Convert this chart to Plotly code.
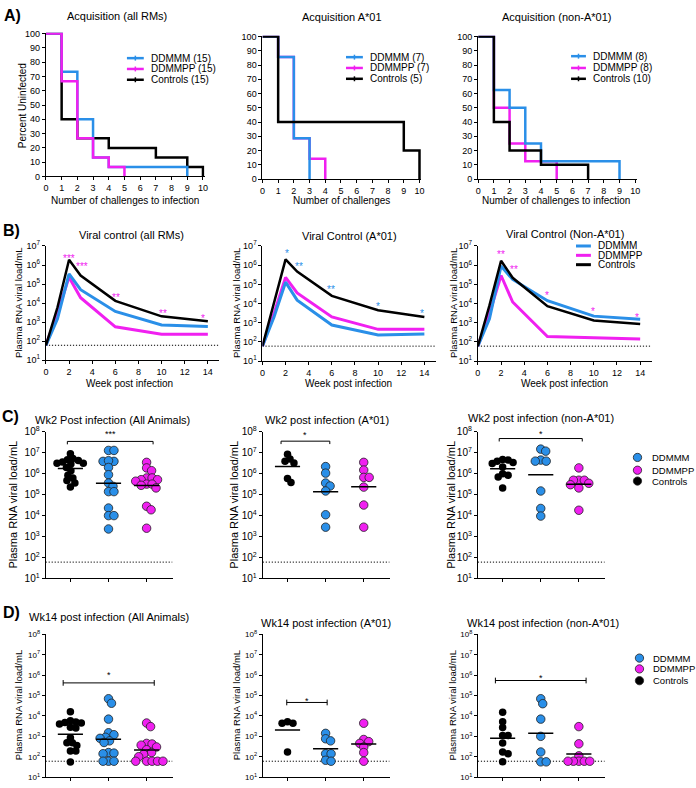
import numpy as np
import plotly.graph_objects as go

W, H = 696, 788
FONT = "Liberation Sans, Arial, Helvetica, sans-serif"
BLUE = "#2a8fe8"
MAGENTA = "#f020f0"
BLACK = "#000000"
DOTS = "1.2px,1.8px"

# ---------------- A) acquisition: percent uninfected by challenge ----------------
a1_ddmmm_x = [0, 1, 2, 3, 4, 9]
a1_ddmmm_y = [100, 73.3, 40, 13.3, 6.7, 0]
a1_ddmmpp_x = [0, 1, 2, 3, 4, 5]
a1_ddmmpp_y = [100, 66.7, 26.7, 13.3, 6.7, 0]
a1_ctrl_x = [0, 1, 2, 4, 7, 9, 10]
a1_ctrl_y = [100, 40, 26.7, 20, 13.3, 6.7, 0]

a2_ddmmm_x = [0, 1, 2, 3]
a2_ddmmm_y = [100, 85.7, 28.6, 0]
a2_ddmmpp_x = [0, 1, 2, 3, 4]
a2_ddmmpp_y = [100, 85.7, 28.6, 14.3, 0]
a2_ctrl_x = [0, 1, 9, 10]
a2_ctrl_y = [100, 40, 20, 0]

a3_ddmmm_x = [0, 1, 2, 3, 4, 9]
a3_ddmmm_y = [100, 62.5, 50, 25, 12.5, 0]
a3_ddmmpp_x = [0, 1, 2, 3, 5]
a3_ddmmpp_y = [100, 50, 25, 12.5, 0]
a3_ctrl_x = [0, 1, 2, 4, 7]
a3_ctrl_y = [100, 40, 20, 10, 0]

a1_labels = ["DDMMM (15)", "DDMMPP (15)", "Controls (15)"]
a2_labels = ["DDMMM (7)", "DDMMPP (7)", "Controls (5)"]
a3_labels = ["DDMMM (8)", "DDMMPP (8)", "Controls (10)"]

# ---------------- B) viral load over time ----------------
weeks = [0, 1, 2, 3, 6, 10, 14]
b1_ddmmm = [60, 1.5e3, 3.4e5, 5e4, 3.6e3, 700, 580]
b1_ddmmpp = [60, 3e3, 2.3e5, 1.9e4, 560, 230, 230]
b1_ctrl = [60, 6e3, 1.9e6, 2.8e5, 1.3e4, 2e3, 1.1e3]
b1_star_x = [2.0, 3.15, 6.05, 10.1, 13.6]
b1_star_y = [3e6, 1.2e6, 2.5e4, 3.6e3, 2.2e3]
b1_star_t = ["***", "***", "**", "**", "*"]

b2_ddmmm = [60, 2e3, 1.3e5, 1.5e4, 760, 230, 260]
b2_ddmmpp = [60, 3e3, 2.3e5, 3.6e4, 2e3, 450, 450]
b2_ctrl = [60, 1e4, 2e6, 4.6e5, 2.5e4, 4.5e3, 2e3]
b2_star_x = [2.14, 3.2, 5.95, 9.95, 13.8]
b2_star_y = [5.5e6, 1.2e6, 7e4, 1e4, 4e3]
b2_star_t = ["*", "**", "**", "*", "*"]

b3_ddmmm = [60, 1.6e3, 9e5, 1.8e5, 1.4e4, 2.2e3, 1.5e3]
b3_ddmmpp = [60, 3e3, 2.9e5, 1.2e4, 190, 160, 140]
b3_ctrl = [60, 8e3, 1.7e6, 2.2e5, 7.3e3, 1.3e3, 850]
b3_star_x = [2.0, 3.1, 6.0, 9.95, 13.7]
b3_star_y = [4.6e6, 8e5, 3.5e4, 5e3, 2.6e3]
b3_star_t = ["**", "**", "*", "*", "*"]

lod = 60

# ---------------- C) week 2 / D) week 14 individual animals ----------------
c1_ctrl = [8.9e6, 5.3e6, 4.7e6, 3.6e6, 4.3e6, 3.2e6, 3.2e6, 2.9e6, 2e6, 1.4e6, 8.4e5, 6.3e5, 4.7e5, 3.6e5, 2.3e5]
c1_ddmmm = [1.3e7, 1.3e7, 3.9e6, 3.9e6, 4.2e6, 2e6, 9e5, 3.6e5, 2.5e5, 1.4e5, 1.4e5, 2.3e4, 1e4, 1e4, 2.3e3]
c1_ddmmpp = [3.5e6, 1.9e6, 1.4e6, 6.3e5, 6.3e5, 5.2e5, 5.2e5, 4.4e5, 3.2e5, 3.2e5, 2.8e5, 2.1e5, 2.8e4, 1.9e4, 2.5e3]

c2_ctrl = [8.5e6, 5e6, 4e6, 3.3e6, 6e5, 3.8e5]
c2_ddmmm = [2.2e6, 1.07e6, 3.6e5, 2.6e5, 1.5e5, 1.1e4, 2.8e3]
c2_ddmmpp = [3.5e6, 1.5e6, 6.7e5, 6.7e5, 2.3e5, 3.2e4, 2.8e3]

c3_ctrl = [4.8e6, 4.5e6, 4e6, 3.4e6, 3.1e6, 2.1e6, 1e6, 8.5e5, 7e5, 2.1e5]
c3_ddmmm = [1.5e7, 1.2e7, 4.5e6, 4e6, 4e6, 1.5e5, 2.2e4, 9.5e3]
c3_ddmmpp = [1.9e6, 4.9e5, 4.9e5, 4.9e5, 3.5e5, 3e5, 2.1e5, 1.8e4]

d1_ctrl = [1.6e4, 5.8e3, 5e3, 4.8e3, 4.5e3, 4e3, 2.8e3, 2.6e3, 860, 490, 490, 350, 190, 190, 55]
d1_ddmmm = [7e4, 4.2e4, 7e3, 1.5e3, 1.2e3, 900, 800, 600, 500, 160, 150, 140, 60, 60, 60]
d1_ddmmpp = [4.5e3, 3e3, 450, 420, 370, 300, 220, 160, 130, 100, 60, 60, 60, 60, 60]

d2_ctrl = [5.2e3, 4.4e3, 4.4e3, 170]
d2_ddmmm = [1.4e3, 760, 600, 140, 140, 67, 60]
d2_ddmmpp = [4.4e3, 700, 550, 450, 300, 160, 60]

d3_ctrl = [1.5e4, 5.2e3, 2.7e3, 1.1e3, 1.1e3, 470, 170, 140, 56]
d3_ddmmm = [7e4, 4e4, 7e3, 1e3, 170, 56, 56]
d3_ddmmpp = [3e3, 430, 110, 60, 60, 60, 60, 60]

# significance brackets: (x from, x to, level, star level, text)
c1_sig = (0.92, 3.17, 3.5e7, 1e8, "***")
c2_sig = (0.83, 2.11, 3.6e7, 9e7, "*")
c3_sig = (0.91, 3.09, 4.8e7, 1e8, "*")
d1_sig = (0.81, 3.2, 4.2e5, 1.3e6, "*")
d2_sig = (0.98, 2.04, 4.6e4, 7e4, "*")
d3_sig = (0.81, 3.19, 5.5e5, 9.5e5, "*")

group_labels = ["DDMMM", "DDMMPP", "Controls"]

# ---------------- layout helpers ----------------
fig = go.Figure()
annotations = []
shapes = []


def refs(n):
    return ("x", "y") if n == 1 else (f"x{n}", f"y{n}")


def add_axes(n, box, xopt, yopt, tick_size):
    x0, x1, yt, yb = box
    base = dict(showline=True, linecolor="black", linewidth=1, ticks="outside",
                ticklen=3, tickwidth=1, tickcolor="black", showgrid=False,
                zeroline=False, fixedrange=True,
                tickfont=dict(size=tick_size, color="black", family=FONT))
    xn = "xaxis" if n == 1 else f"xaxis{n}"
    yn = "yaxis" if n == 1 else f"yaxis{n}"
    xr, yr = refs(n)
    fig.update_layout({
        xn: dict(domain=[x0 / W, x1 / W], anchor=yr, **base, **xopt),
        yn: dict(domain=[1 - yb / H, 1 - yt / H], anchor=xr, **base, **yopt),
    })


def text(s, x, y, size, angle=0, anchor="center", color="black"):
    annotations.append(dict(text=s, x=x / W, y=1 - y / H, xref="paper", yref="paper",
                            showarrow=False, textangle=angle, xanchor=anchor,
                            yanchor="middle", font=dict(size=size, color=color, family=FONT)))


def line_legend(x0, x1, y0, labels, colors, width, size, tick):
    for i, (lab, col) in enumerate(zip(labels, colors)):
        y = y0[i]
        shapes.append(dict(type="line", xref="paper", yref="paper", x0=x0 / W, x1=x1 / W,
                           y0=1 - y / H, y1=1 - y / H, line=dict(color=col, width=width)))
        if tick:
            xm = (x0 + x1) / 2
            shapes.append(dict(type="line", xref="paper", yref="paper", x0=xm / W, x1=xm / W,
                               y0=1 - (y - 2.5) / H, y1=1 - (y + 2.5) / H,
                               line=dict(color=col, width=1.5)))
        text(lab, x1 + 5, y, size, anchor="left")


def dot_legend(cx, tx, ys, labels, colors, size):
    r = 4.2
    for lab, col, y in zip(labels, colors, ys):
        shapes.append(dict(type="circle", xref="paper", yref="paper",
                           x0=(cx - r) / W, x1=(cx + r) / W, y0=1 - (y + r) / H, y1=1 - (y - r) / H,
                           fillcolor=col, line=dict(color="#222222", width=0.8)))
        text(lab, tx, y, size, anchor="left")


def swarm(values, ppd, ppu, d):
    ly = np.log10(np.asarray(values, dtype=float)) * ppd
    order = np.argsort(-ly, kind="stable")
    cands = [0.0]
    for s in range(1, 80):
        cands += [s * 0.5, -s * 0.5]
    placed = []
    off = np.zeros(len(ly))
    for i in order:
        for c in cands:
            if all((c - px) ** 2 + (ly[i] - py) ** 2 >= d * d for px, py in placed):
                off[i] = c
                placed.append((c, ly[i]))
                break
    return off / ppu


LOGTICKS = lambda hi: dict(type="log", range=[1, hi], tickvals=[10 ** k for k in range(1, hi + 1)],
                           ticktext=[f"10<sup>{k}</sup>" for k in range(1, hi + 1)])

# ---------------- A panels ----------------
a_boxes = [(43.3, 203.3, 26.3, 172.3), (261.7, 421.7, 29.3, 175), (479.3, 639.3, 29.3, 175)]
a_sets = [
    [(a1_ctrl_x, a1_ctrl_y, BLACK), (a1_ddmmm_x, a1_ddmmm_y, BLUE), (a1_ddmmpp_x, a1_ddmmpp_y, MAGENTA)],
    [(a2_ddmmpp_x, a2_ddmmpp_y, MAGENTA), (a2_ddmmm_x, a2_ddmmm_y, BLUE), (a2_ctrl_x, a2_ctrl_y, BLACK)],
    [(a3_ddmmpp_x, a3_ddmmpp_y, MAGENTA), (a3_ddmmm_x, a3_ddmmm_y, BLUE), (a3_ctrl_x, a3_ctrl_y, BLACK)],
]
for k in range(3):
    n = k + 1
    xr, yr = refs(n)
    for xs, ys, col in a_sets[k]:
        fig.add_trace(go.Scatter(x=xs, y=ys, mode="lines", line=dict(color=col, width=2.5, shape="hv"),
                                 xaxis=xr, yaxis=yr, hoverinfo="skip"))
    add_axes(n, a_boxes[k],
             dict(range=[0, 10.1], tickvals=list(range(11))),
             dict(range=[0, 100.5], tickvals=list(range(0, 101, 10))), 9)

text("Acquisition (all RMs)", 115, 9, 11)
text("Acquisition A*01", 342, 10, 11)
text("Acquisition (non-A*01)", 558, 10, 11)
text("Number of challenges to infection", 123, 197, 10)
text("Number of challenges", 341, 197, 10)
text("Number of challenges to infection", 558, 197, 10)
text("Percent Uninfected", 20, 100, 10, angle=-90)
line_legend(125, 142, [52, 63, 74], a1_labels, [BLUE, MAGENTA, BLACK], 2.5, 10, True)
line_legend(346, 363, [51, 62, 73], a2_labels, [BLUE, MAGENTA, BLACK], 2.5, 10, True)
line_legend(573, 588, [50, 62, 73], a3_labels, [BLUE, MAGENTA, BLACK], 2.5, 10, True)

# ---------------- B panels ----------------
b_boxes = [(43.3, 218.3, 243, 359), (261.7, 436.7, 243, 360), (479, 654.4, 243, 360)]
b_sets = [
    (b1_ddmmpp, b1_ddmmm, b1_ctrl, b1_star_x, b1_star_y, b1_star_t, MAGENTA),
    (b2_ddmmpp, b2_ddmmm, b2_ctrl, b2_star_x, b2_star_y, b2_star_t, BLUE),
    (b3_ddmmpp, b3_ddmmm, b3_ctrl, b3_star_x, b3_star_y, b3_star_t, MAGENTA),
]
for k in range(3):
    n = k + 4
    xr, yr = refs(n)
    pp, mm, ct, sx, sy, st, scol = b_sets[k]
    fig.add_trace(go.Scatter(x=[0, 15], y=[lod, lod], mode="lines", line=dict(color="black", width=1, dash=DOTS),
                             xaxis=xr, yaxis=yr, hoverinfo="skip"))
    for vals, col, w in [(pp, MAGENTA, 3), (mm, BLUE, 3), (ct, BLACK, 2.5)]:
        fig.add_trace(go.Scatter(x=weeks, y=vals, mode="lines", line=dict(color=col, width=w),
                                 xaxis=xr, yaxis=yr, hoverinfo="skip"))
    for x, y, t in zip(sx, sy, st):
        annotations.append(dict(text=t, x=x, y=np.log10(y), xref=xr, yref=yr, showarrow=False,
                                yshift=-2.5, font=dict(size=10, color=scol, family=FONT)))
    add_axes(n, b_boxes[k], dict(range=[0, 15], tickvals=list(range(0, 15, 2))), LOGTICKS(7), 9)

text("Viral control (all RMs)", 130, 232, 11)
text("Viral Control (A*01)", 350, 233, 11)
text("Viral Control (Non-A*01)", 567, 231, 11)
for cx in (128, 348, 566):
    text("Week post infection", cx, 383, 10)
for tx in (15, 235, 454):
    text("Plasma RNA viral load/mL", tx, 301, 9.5, angle=-90)
line_legend(578, 593, [243, 252.5, 262], group_labels, [BLUE, MAGENTA, BLACK], 3, 10, False)

# ---------------- C / D panels ----------------
XR = [0.35, 3.68]
c_boxes = [(43, 171, 432, 581), (262, 390, 432, 581), (479, 607, 432, 581)]
d_boxes = [(43, 171, 638, 783), (262, 390, 638, 783), (479, 607, 638, 783)]
cd_sets = [
    (c_boxes[0], c1_ctrl, c1_ddmmm, c1_ddmmpp, c1_sig, 10, False),
    (c_boxes[1], c2_ctrl, c2_ddmmm, c2_ddmmpp, c2_sig, 10, False),
    (c_boxes[2], c3_ctrl, c3_ddmmm, c3_ddmmpp, c3_sig, 10, False),
    (d_boxes[0], d1_ctrl, d1_ddmmm, d1_ddmmpp, d1_sig, 8, True),
    (d_boxes[1], d2_ctrl, d2_ddmmm, d2_ddmmpp, d2_sig, 8, True),
    (d_boxes[2], d3_ctrl, d3_ddmmm, d3_ddmmpp, d3_sig, 8, True),
]
for k, (box, ct, mm, pp, sig, tsize, capped) in enumerate(cd_sets):
    n = k + 7
    xr, yr = refs(n)
    ppd = (box[3] - box[2]) / 7
    ppu = (box[1] - box[0]) / (XR[1] - XR[0])
    fig.add_trace(go.Scatter(x=XR, y=[lod, lod], mode="lines", line=dict(color="black", width=1, dash=DOTS),
                             xaxis=xr, yaxis=yr, hoverinfo="skip"))
    for cat, vals, col, size, lw in [(1, ct, BLACK, 7.5, 0), (2, mm, BLUE, 8.5, 0.8), (3, pp, MAGENTA, 8.5, 0.8)]:
        off = swarm(vals, ppd, ppu, 5.4)
        fig.add_trace(go.Scatter(x=cat + off, y=vals, mode="markers",
                                 marker=dict(size=size, color=col, line=dict(color="#222222", width=lw)),
                                 xaxis=xr, yaxis=yr, hoverinfo="skip", cliponaxis=False))
    for cat, vals in [(1, ct), (2, mm), (3, pp)]:
        gm = 10 ** np.mean(np.log10(vals))
        fig.add_trace(go.Scatter(x=[cat - 0.33, cat + 0.33], y=[gm, gm], mode="lines",
                                 line=dict(color="black", width=1.5), xaxis=xr, yaxis=yr, hoverinfo="skip"))
    x0, x1, lev, slev, st = sig
    f = 10 ** -0.14
    if capped:
        bx = [x0, x1, None, x0, x0, None, x1, x1]
        by = [lev, lev, None, lev * f, lev / f, None, lev * f, lev / f]
    else:
        bx = [x0, x0, x1, x1]
        by = [lev * f, lev, lev, lev * f]
    fig.add_trace(go.Scatter(x=bx, y=by, mode="lines", line=dict(color="black", width=1),
                             xaxis=xr, yaxis=yr, hoverinfo="skip", connectgaps=False))
    annotations.append(dict(text=st, x=(x0 + x1) / 2, y=np.log10(slev), xref=xr, yref=yr, showarrow=False,
                            yshift=-2.5, font=dict(size=9, color="black", family=FONT)))
    add_axes(n, box, dict(range=XR, tickvals=[1, 2, 3], showticklabels=False), LOGTICKS(8), tsize)

text("Wk2 Post infection (All Animals)", 110, 420, 11)
text("Wk2 post infection (A*01)", 327, 420, 11)
text("Wk2 post infection (non-A*01)", 543, 418, 11)
text("Wk14 post infection (All Animals)", 107, 620, 11)
text("Wk14 post infection (A*01)", 326, 626, 11)
text("Wk14 post infection (non-A*01)", 545, 626, 11)
for tx in (10, 233, 452):
    text("Plasma RNA viral load/mL", tx, 506, 11, angle=-90)
for tx in (15, 235, 453):
    text("Plasma RNA viral load/mL", tx, 710, 9.5, angle=-90)
dot_legend(640, 653, [458, 471, 482], group_labels, [BLUE, MAGENTA, BLACK], 9.5)
dot_legend(642, 654, [662, 673, 685], group_labels, [BLUE, MAGENTA, BLACK], 9.5)

# panel letters
text("<b>A)</b>", 10, 9, 16)
text("<b>B)</b>", 9, 227, 16)
text("<b>C)</b>", 8, 416, 16)
text("<b>D)</b>", 9, 616, 16)

fig.update_layout(width=W, height=H, margin=dict(l=0, r=0, t=0, b=0),
                  paper_bgcolor="white", plot_bgcolor="white", showlegend=False,
                  font=dict(family=FONT, color="black"),
                  annotations=annotations, shapes=shapes)

fig.write_html("out.html", config={"displayModeBar": False},
               post_script="document.body.style.margin='0';")
